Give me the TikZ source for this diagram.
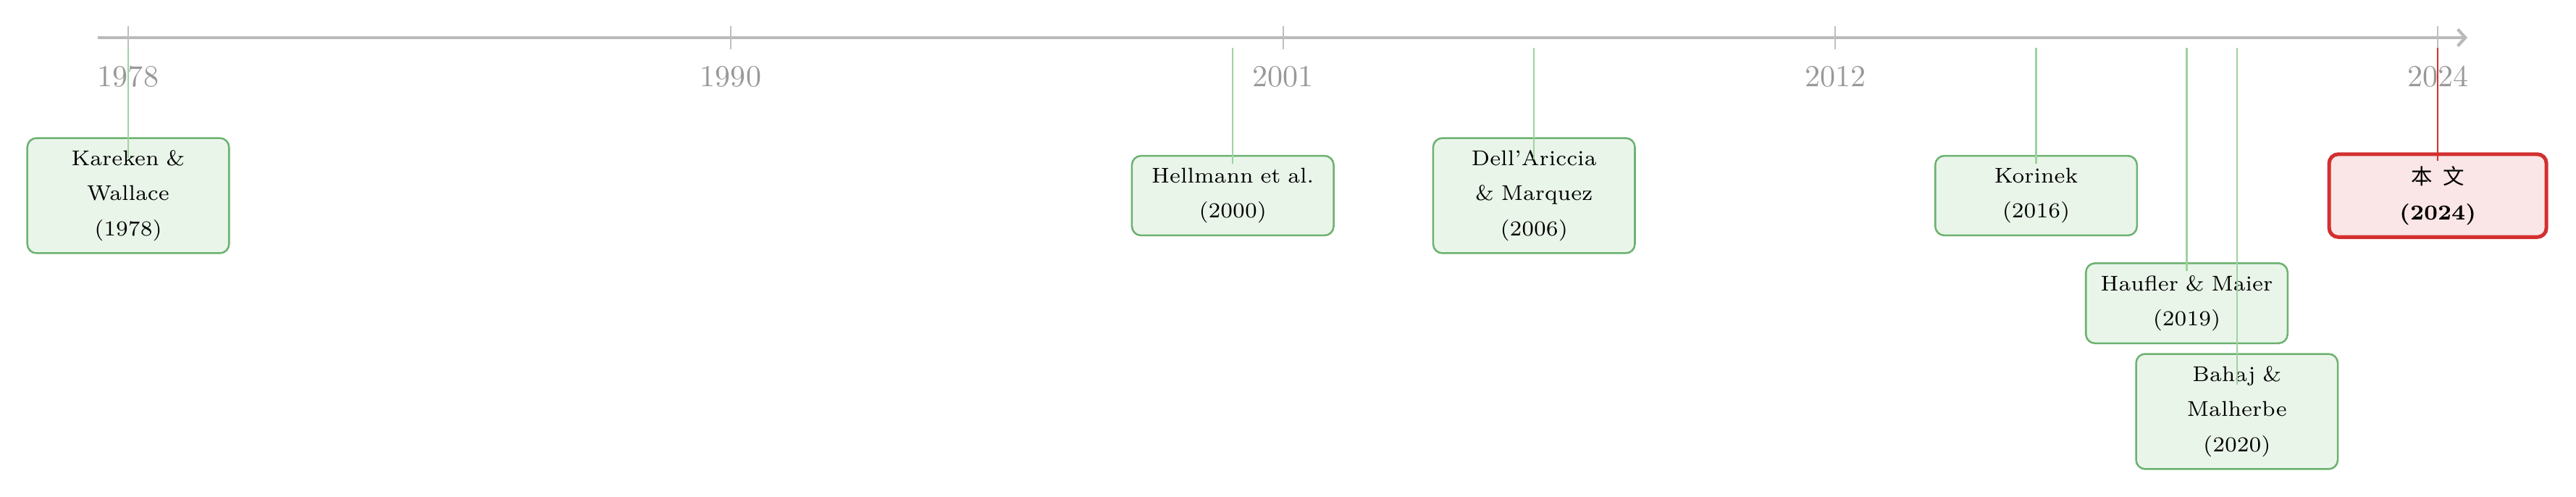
\documentclass[tikz,border=0pt]{standalone}
\usepackage{fontspec}
\newfontfamily\cjkfont{Noto Sans CJK SC}
\usepackage{tikz}
\usetikzlibrary{positioning, calc, arrows.meta}
\definecolor{litgreen}{HTML}{4CAF50}
\definecolor{greenedge}{RGB}{108,178,112}
\definecolor{ownred}{HTML}{D32F2F}

\begin{document}
\begin{tikzpicture}[
        x=0.5787cm, y=1cm,
        axisline/.style={draw=black!27, line width=1pt, -{Straight Barb[length=2.5pt, width=5.5pt]}},
        tickmark/.style={draw=black!25, line width=0.5pt},
        yearlabel/.style={text=black!40, font=\normalsize, inner sep=0pt},
        paperbox/.style={
            rectangle, rounded corners=3pt,
            draw=greenedge, fill=litgreen!12, line width=0.6pt,
            text width=2.1cm, align=center,
            inner xsep=3.2pt, inner ysep=4pt,
            font=\fontsize{7}{11.5}\selectfont
        },
        thisbox/.style={paperbox, draw=ownred, fill=ownred!12, line width=1.2pt, text width=2.28cm},
        paperlink/.style={draw=litgreen!55, line width=0.5pt},
        thislink/.style={draw=ownred, line width=0.5pt}
    ]
    \useasboundingbox (-2.553,-5.292) rectangle (48.753,0.434);

    % timeline
    \coordinate (axisstart) at (-0.606,0);
    \coordinate (axisend) at (46.59,0);
    \coordinate (linktop) at (0,-0.117);
    \draw[axisline] (axisstart) -- (axisend);
    \foreach \yr in {1978,1990,2001,2012,2024} {
        \draw[tickmark] ({\yr-1978},0.134) -- ({\yr-1978},-0.134);
        \node[yearlabel] (year\yr) at ({\yr-1978},-0.451) {\yr};
    }

    % works
    \node[paperbox] (kareken) at (0,-1.82) {Kareken \&\\ Wallace\\ (1978)};
    \node[paperbox] (hellmann) at (22,-1.82) {Hellmann et al.\\ (2000)};
    \node[paperbox] (dellariccia) at (28,-1.82) {Dell'Ariccia\\ \& Marquez\\ (2006)};
    \node[paperbox] (korinek) at (38,-1.82) {Korinek\\ (2016)};
    \node[paperbox] (haufler) at (41,-3.06) {Haufler \& Maier\\ (2019)};
    \node[paperbox] (bahaj) at (42,-4.307) {Bahaj \&\\ Malherbe\\ (2020)};
    \node[thisbox] (thiswork) at (46,-1.82) {{\cjkfont 本\hspace{0.5em}文}\\ \textbf{(2024)}};

    % links to the timeline
    \foreach \p/\d in {kareken/0.242, hellmann/0.1, dellariccia/0.26, korinek/0.1, haufler/0.1, bahaj/0.367}
        \draw[paperlink] (\p.north |- linktop) -- ([yshift=-\d cm]\p.north);
    \draw[thislink] (thiswork.north |- linktop) -- ([yshift=-0.1cm]thiswork.north);
\end{tikzpicture}
\end{document}
